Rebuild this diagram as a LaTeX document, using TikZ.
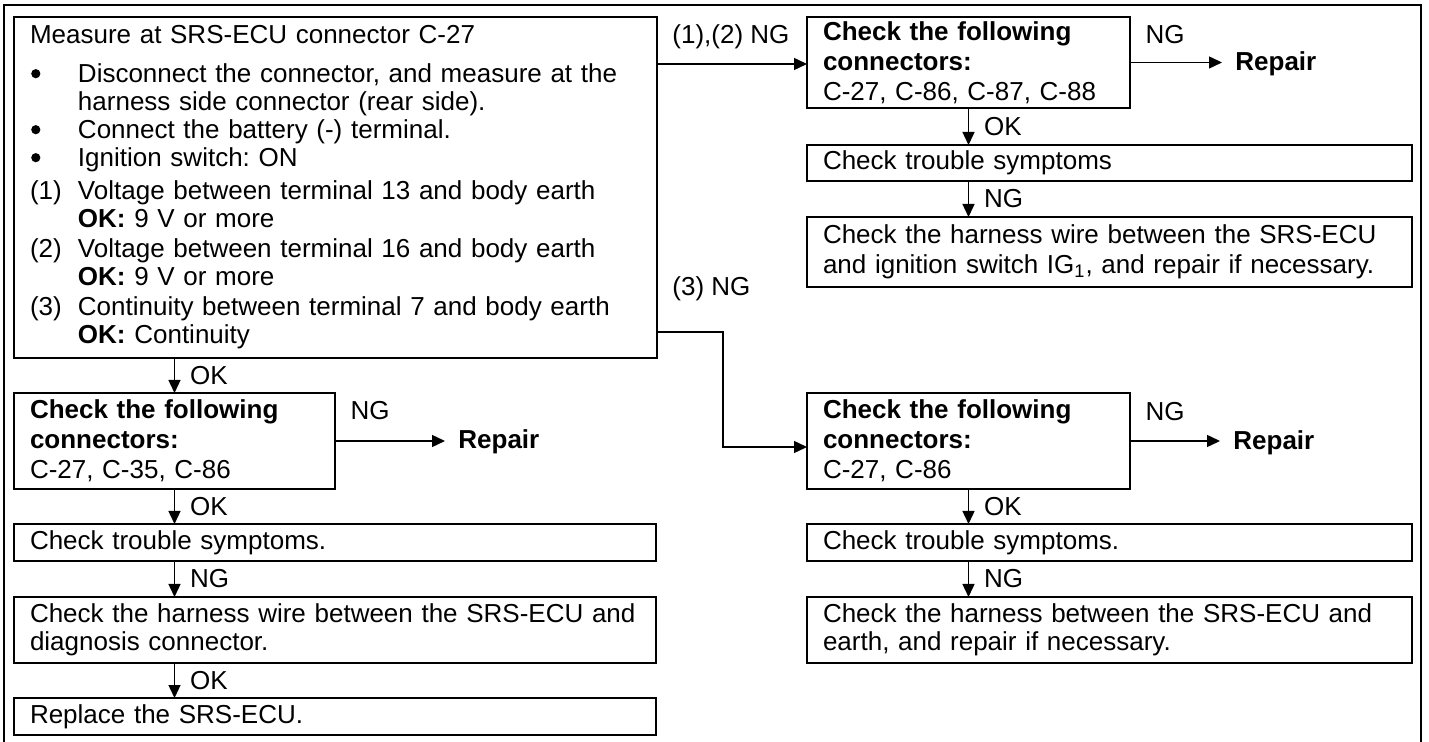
\documentclass[tikz,border=0pt]{standalone}
\usepackage{fontspec}
\setmainfont{Liberation Sans}
\usetikzlibrary{arrows.meta}
\newcommand\hitem[1]{\makebox[24pt][l]{#1}}
\newcommand\hind{\hspace*{24pt}}
\newcommand\bigbul{\hspace*{0.6pt}\tikz[baseline=-4.6pt]\fill (0,0) circle (2.3pt);}
\frenchspacing
\begin{document}
\begin{tikzpicture}[x=0.5pt,y=-0.5pt,
  every node/.style={font=\fontsize{13pt}{14pt}\selectfont},
  box/.style={draw, line width=1.1pt, rectangle, anchor=north west, inner xsep=8pt, inner ysep=0pt, outer sep=0pt, align=left},
  conbox/.style={box, font=\fontsize{13pt}{15pt}\selectfont},
  vl/.style={anchor=west, inner sep=0pt, xshift=7.5pt},
  hl/.style={anchor=west, inner sep=0pt},
  rep/.style={anchor=west, inner xsep=6.5pt, inner ysep=0pt, font=\fontsize{13pt}{14pt}\selectfont\bfseries},
  arr/.style={line width=0.7pt, -{Triangle[length=6.5pt,width=6pt]}},
]
\useasboundingbox (0,0) rectangle (1429,742);
\draw[line width=1pt] (4,742) -- (4,5.5) -- (1421,5.5) -- (1421,742);

% left column
\node[box, minimum width=321.5pt, minimum height=170.5pt, text width=305.5pt] (main) at (14,17)
 {Measure at SRS-ECU connector C-27\\[5.5pt]
  \hitem{\bigbul}\mbox{Disconnect the connector, and measure at the}\\
  \hind harness side connector (rear side).\\
  \hitem{\bigbul}Connect the battery (-) terminal.\\
  \hitem{\bigbul}Ignition switch: ON\\[2.5pt]
  \hitem{(1)}\mbox{Voltage between terminal 13 and body earth}\\
  \hind\textbf{OK:} 9 V or more\\[1pt]
  \hitem{(2)}\mbox{Voltage between terminal 16 and body earth}\\
  \hind\textbf{OK:} 9 V or more\\[1pt]
  \hitem{(3)}\mbox{Continuity between terminal 7 and body earth}\\
  \hind\textbf{OK:} Continuity};
\node[conbox, minimum width=160.5pt, minimum height=48pt, text width=144.5pt] (A) at (14,393)
 {\textbf{Check the following}\\\textbf{connectors:}\\C-27, C-35, C-86};
\node[box, minimum width=321pt, minimum height=18.5pt, text width=305pt] (B) at (14,524)
 {Check trouble symptoms.};
\node[box, minimum width=321pt, minimum height=33pt, text width=305pt] (C) at (14,597)
 {\mbox{Check the harness wire between the SRS-ECU and}\\diagnosis connector.};
\node[box, minimum width=321pt, minimum height=18.5pt, text width=305pt] (D) at (14,698)
 {Replace the SRS-ECU.};

% right column top
\node[conbox, minimum width=161.5pt, minimum height=45.5pt, text width=145.5pt] (T1) at (807,17)
 {\textbf{Check the following}\\\textbf{connectors:}\\C-27, C-86, C-87, C-88};
\node[box, minimum width=302.5pt, minimum height=18pt, text width=286.5pt] (T2) at (807,145)
 {Check trouble symptoms};
\node[conbox, minimum width=302.5pt, minimum height=35pt, text width=286.5pt] (T3) at (807,217)
 {\mbox{Check the harness wire between the SRS-ECU}\\\mbox{and ignition switch IG\textsubscript{1}, and repair if necessary.}};

% right column bottom
\node[conbox, minimum width=161.5pt, minimum height=48pt, text width=145.5pt] (E) at (807,393)
 {\textbf{Check the following}\\\textbf{connectors:}\\C-27, C-86};
\node[box, minimum width=302.5pt, minimum height=18.5pt, text width=286.5pt] (F) at (807,524)
 {Check trouble symptoms.};
\node[box, minimum width=302.5pt, minimum height=33pt, text width=286.5pt] (G) at (807,597)
 {\mbox{Check the harness between the SRS-ECU and}\\earth, and repair if necessary.};

% repair nodes
\node[rep] (rA) at (445,442) {Repair};
\node[rep] (rT) at (1222,64) {Repair};
\node[rep] (rE) at (1220,443) {Repair};

% left connectors
\draw[arr] (A.north |- main.south) -- node[vl] (lA1) {OK} (A.north);
\draw[arr] (A.south) -- node[vl] (lA2) {OK} (A.south |- B.north);
\draw[arr] (A.south |- B.south) -- node[vl] (lA3) {NG} (A.south |- C.north);
\draw[arr] (A.south |- C.south) -- node[vl] (lA4) {OK} (A.south |- D.north);
\draw[arr] (A.east) -- node[pos=0, hl, xshift=7.5pt, yshift=15pt] (lA5) {NG} (A.east -| rA.west);

% main to right
\node[hl] (l12) at (672,37) {(1),(2) NG};
\draw[arr] (main.east |- 0,64) -- (T1.west |- 0,64);
\node[hl] (l3) at (672,289) {(3) NG};
\coordinate (k) at (723,332);
\draw[arr] (main.east |- k) -- (k) |- ([yshift=-3pt]E.west);

% right top connectors
\draw[arr] (T1.south) -- node[vl] (lT1) {OK} (T1.south |- T2.north);
\draw[arr] (T1.south |- T2.south) -- node[vl] (lT2) {NG} (T1.south |- T3.north);
\draw[arr] (T1.east) -- node[pos=0, hl, xshift=7.5pt, yshift=14pt] (lT3) {NG} (T1.east -| rT.west);

% right bottom connectors
\draw[arr] (E.south) -- node[vl] (lE1) {OK} (E.south |- F.north);
\draw[arr] (E.south |- F.south) -- node[vl] (lE2) {NG} (E.south |- G.north);
\draw[arr] (E.east) -- node[pos=0, hl, xshift=7.5pt, yshift=14.5pt] (lE3) {NG} (E.east -| rE.west);
\end{tikzpicture}
\end{document}
